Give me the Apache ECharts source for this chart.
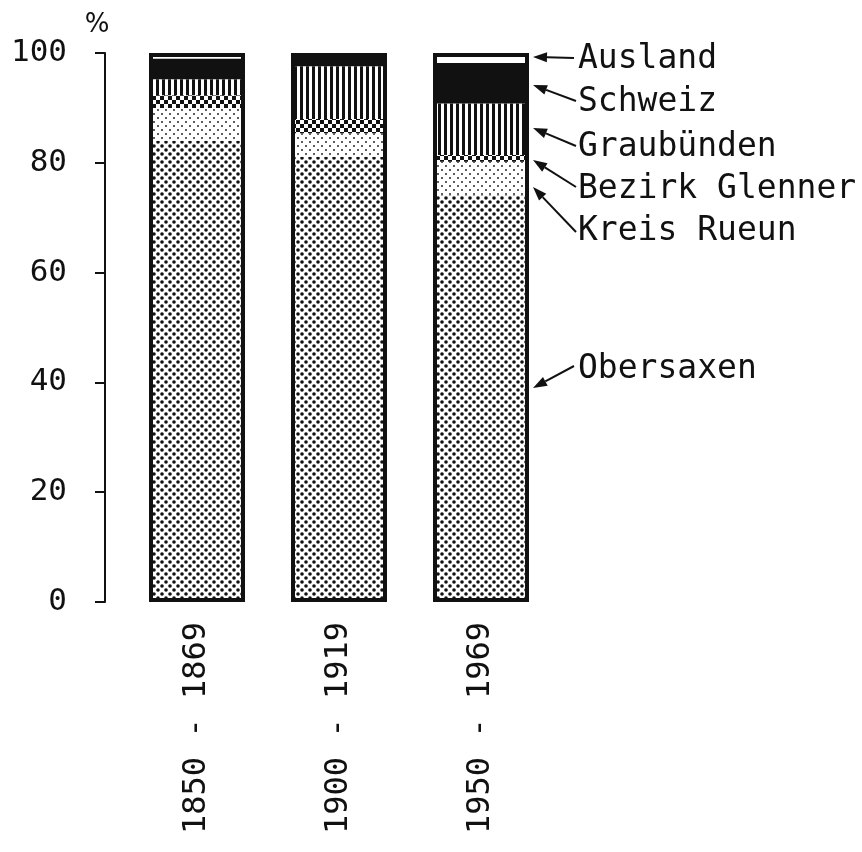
<!DOCTYPE html>
<html>
<head>
<meta charset="utf-8">
<script src="https://cdn.jsdelivr.net/npm/echarts@6/dist/echarts.min.js"></script>
<style>
html,body{margin:0;padding:0;background:#fff;}
#chart{width:862px;height:852px;}
</style>
</head>
<body>
<div id="chart"></div>
<script>
// ---- data ----
const categories = ['1850 - 1869', '1900 - 1919', '1950 - 1969'];
const seriesNames = ['Obersaxen', 'Kreis Rueun', 'Bezirk Glenner', 'Graubünden', 'Schweiz', 'Ausland'];
const obersaxen     = [84.0, 81.1, 74.1];
const kreisRueun    = [6.0, 4.3, 6.1];
const bezirkGlenner = [2.3, 2.6, 1.2];
const graubuenden   = [2.9, 9.6, 9.4];
const schweiz       = [3.8, 2.4, 7.4];
const ausland       = [1.0, 0.0, 1.8];
const totals        = [100, 100, 100];
const yMin = 0, yMax = 100, yInterval = 20;
const unitLabel = '%';

// ---- patterns ----
function pattern(w, h, draw) {
  const c = document.createElement('canvas');
  c.width = w; c.height = h;
  const g = c.getContext('2d');
  g.fillStyle = '#fff'; g.fillRect(0, 0, w, h);
  g.fillStyle = '#111';
  draw(g, w, h);
  return { image: c, repeat: 'repeat' };
}
function dot(g, x, y, r) { g.beginPath(); g.arc(x, y, r, 0, Math.PI * 2); g.fill(); }

const patObersaxen = pattern(8, 8, g => { dot(g, 2, 2, 1.8); dot(g, 6, 6, 1.8); });
const patRueun = pattern(8, 8, g => { dot(g, 2, 2, 0.9); dot(g, 6, 6, 0.9); });
const patGlenner = pattern(8, 8, g => { g.fillRect(0, 0, 4, 4); g.fillRect(4, 4, 4, 4); });
const patGraub = pattern(6, 6, g => { g.fillRect(0, 0, 3, 6); });
const fills = [patObersaxen, patRueun, patGlenner, patGraub, '#111', '#fff'];
const values = [obersaxen, kreisRueun, bezirkGlenner, graubuenden, schweiz, ausland];

const FONT = 'DejaVu Sans Mono';
const chart = echarts.init(document.getElementById('chart'), null, { renderer: 'canvas' });

const series = seriesNames.map((n, i) => ({
  name: n,
  type: 'bar',
  stack: 'total',
  barWidth: 96,
  data: values[i],
  itemStyle: { color: fills[i], borderWidth: 0 },
  emphasis: { disabled: true },
  animation: false
}));
series.push({
  name: 'outline',
  type: 'bar',
  barWidth: 96,
  barGap: '-100%',
  data: totals,
  itemStyle: { color: 'rgba(0,0,0,0)', borderColor: '#111', borderWidth: 4 },
  emphasis: { disabled: true },
  z: 5,
  animation: false
});

// ---- annotations (layout) ----
const notes = [
  { text: 'Ausland',        ty: 59,  tail: [574, 58],  head: [533, 57] },
  { text: 'Schweiz',        ty: 102, tail: [576, 101], head: [533, 85] },
  { text: 'Graubünden',     ty: 147, tail: [576, 146], head: [533, 128] },
  { text: 'Bezirk Glenner', ty: 189, tail: [576, 187], head: [533, 160] },
  { text: 'Kreis Rueun',    ty: 231, tail: [576, 232], head: [533, 187] },
  { text: 'Obersaxen',      ty: 369, tail: [574, 366], head: [533, 388] }
];
const graphics = [];
notes.forEach(n => {
  graphics.push({
    type: 'text', x: 578, y: n.ty,
    style: { text: n.text, font: '33px "' + FONT + '"', fill: '#111', textVerticalAlign: 'middle', textAlign: 'left' }
  });
  const [hx, hy] = n.head, [tx, ty] = n.tail;
  const dx = tx - hx, dy = ty - hy, L = Math.hypot(dx, dy);
  const ux = dx / L, uy = dy / L;
  const len = 14, wd = 5;
  const bx = hx + ux * len, by = hy + uy * len;
  graphics.push({
    type: 'line',
    shape: { x1: bx, y1: by, x2: tx, y2: ty },
    style: { stroke: '#111', lineWidth: 2 }
  });
  graphics.push({
    type: 'polygon',
    shape: { points: [[hx, hy], [bx - uy * wd, by + ux * wd], [bx + uy * wd, by - ux * wd]] },
    style: { fill: '#111' }
  });
});
graphics.push({
  type: 'text', x: 97, y: 25,
  style: { text: unitLabel, font: '26px "DejaVu Sans"', fill: '#111', textAlign: 'center', textVerticalAlign: 'middle' }
});

chart.setOption({
  animation: false,
  backgroundColor: '#fff',
  grid: { left: 126, top: 53, width: 426, height: 549, containLabel: false },
  xAxis: {
    type: 'category',
    data: categories,
    axisLine: { show: false },
    axisTick: { show: false },
    axisLabel: { rotate: 90, margin: 20, color: '#111', fontFamily: FONT, fontSize: 32 }
  },
  yAxis: {
    type: 'value',
    min: yMin, max: yMax, interval: yInterval,
    offset: 21,
    axisLine: { show: true, lineStyle: { color: '#111', width: 2 } },
    axisTick: { show: true, length: 10, lineStyle: { color: '#111', width: 2 } },
    splitLine: { show: false },
    axisLabel: { margin: 38, color: '#111', fontFamily: FONT, fontSize: 31 }
  },
  graphic: graphics,
  series: series
});
</script>
</body>
</html>
